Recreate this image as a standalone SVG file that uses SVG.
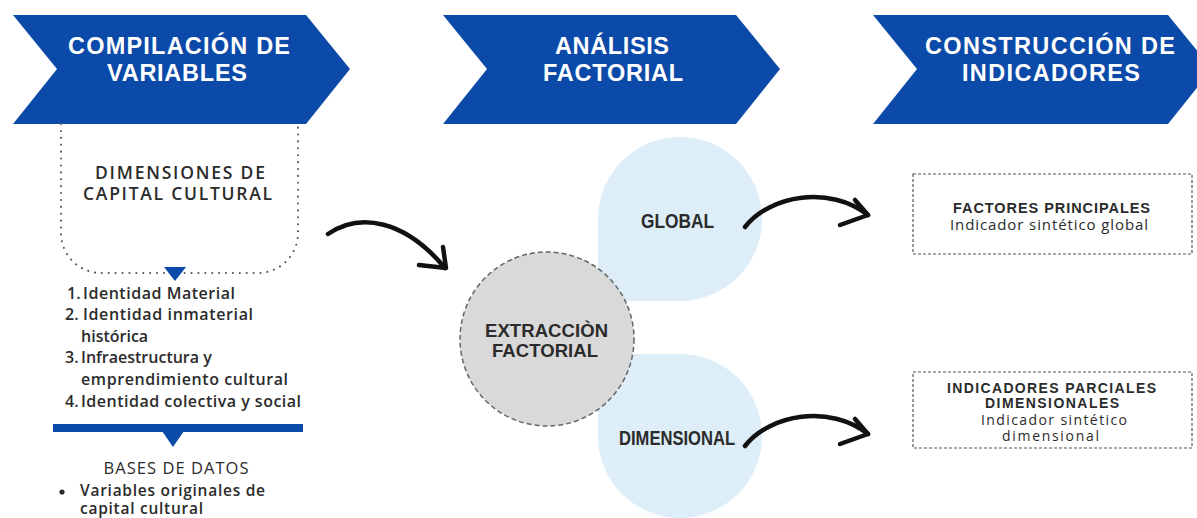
<svg xmlns="http://www.w3.org/2000/svg" width="1197" height="518" viewBox="0 0 1197 518">
<style>
.chev{fill:#0b4aa8}
.ct{font-family:"Liberation Sans",Arial,sans-serif;font-weight:bold;font-size:23.5px;fill:#ffffff;text-anchor:middle}
.dk{font-family:"Liberation Sans",Arial,sans-serif;fill:#2b2b2b}
.md{font-family:"Open Sans","Liberation Sans",Arial,sans-serif;font-weight:600;fill:#2b2b2b}
.rg{font-family:"Open Sans","Liberation Sans",Arial,sans-serif;font-weight:500;fill:#2b2b2b}
.b{font-weight:bold}
.mid{text-anchor:middle}
.lb{fill:#ddeef8}
.arr{fill:none;stroke:#111;stroke-width:4.5;stroke-linecap:round;stroke-linejoin:round}
.dbox{fill:none;stroke:#555;stroke-width:1.2;stroke-dasharray:3 2}
</style>
<rect width="1197" height="518" fill="#ffffff"/>

<g id="step1">
<polygon class="chev" points="13,15 306,15 350,69 306,124 13,124 57,69"/>
<text class="ct" x="179" y="54" textLength="222">COMPILACIÓN DE</text>
<text class="ct" x="177" y="81" textLength="140">VARIABLES</text>
</g>
<g id="step2">
<polygon class="chev" points="443,15 736,15 780,69 736,124 443,124 487,69"/>
<text class="ct" x="612" y="54" textLength="114">ANÁLISIS</text>
<text class="ct" x="613" y="81" textLength="140">FACTORIAL</text>
</g>
<g id="step3">
<polygon class="chev" points="873,15 1168,15 1212,69 1168,124 873,124 917,69"/>
<text class="ct" x="1050" y="54" textLength="250">CONSTRUCCIÓN DE</text>
<text class="ct" x="1051" y="81" textLength="178">INDICADORES</text>
</g>

<g id="dimensiones">
<path d="M61,124 V233 A40,40 0 0 0 101,273 H258 A40,40 0 0 0 298,233 V124" fill="none" stroke="#555" stroke-width="2" stroke-dasharray="0.1 6.8" stroke-linecap="round"/>
<text class="md mid" x="180" y="179" font-size="17.5" textLength="170">DIMENSIONES DE</text>
<text class="md mid" x="177.5" y="200" font-size="17.5" textLength="189">CAPITAL CULTURAL</text>
<polygon class="chev" points="164,267 186,267 175,281"/>
</g>

<g id="lista" class="md" font-size="16">
<text x="67" y="299">1.</text><text x="83" y="299" textLength="152">Identidad Material</text>
<text x="65" y="320">2.</text><text x="83" y="320" textLength="170">Identidad inmaterial</text>
<text x="81" y="342">histórica</text>
<text x="65" y="363">3.</text><text x="81" y="363">Infraestructura y</text>
<text x="81" y="385" textLength="207">emprendimiento cultural</text>
<text x="65" y="407">4.</text><text x="81" y="407" textLength="220">Identidad colectiva y social</text>
</g>

<g id="bases">
<rect class="chev" x="53" y="424" width="250" height="8"/>
<polygon class="chev" points="162,431 184,431 173,447"/>
<text class="rg mid" x="176" y="474" font-size="16.5" textLength="145">BASES DE DATOS</text>
<circle cx="62" cy="492" r="2.6" fill="#2b2b2b"/>
<text class="md" x="80" y="496" font-size="15.5" textLength="185">Variables originales de</text>
<text class="md" x="80" y="514" font-size="15.5" textLength="123">capital cultural</text>
</g>

<g id="global">
<path class="lb" d="M598,301 V219 A82,82 0 0 1 680,137 A82,82 0 0 1 762,219 A82,82 0 0 1 680,301 Z"/>
<text class="dk b mid" x="677.5" y="228" font-size="21" textLength="73" lengthAdjust="spacingAndGlyphs">GLOBAL</text>
</g>
<g id="dimensional">
<path class="lb" d="M598,354 H680 A82,82 0 0 1 762,436 A82,82 0 0 1 680,518 A82,82 0 0 1 598,436 Z"/>
<text class="dk b mid" x="677" y="445" font-size="21" textLength="116" lengthAdjust="spacingAndGlyphs">DIMENSIONAL</text>
</g>

<g id="extraccion">
<circle cx="547" cy="339" r="87" fill="#d9d9d9" stroke="#666" stroke-width="1.5" stroke-dasharray="5 3"/>
<text class="dk b mid" x="546.5" y="337" font-size="18.5" textLength="123">EXTRACCIÒN</text>
<text class="dk b mid" x="545" y="357" font-size="18.5" textLength="106">FACTORIAL</text>
</g>

<g id="factores">
<rect class="dbox" x="913" y="174" width="279" height="80"/>
<text class="dk b mid" x="1051.5" y="213" font-size="14.5" textLength="197">FACTORES PRINCIPALES</text>
<text class="rg mid" x="1049" y="230" font-size="15" textLength="198">Indicador sintético global</text>
</g>
<g id="parciales">
<rect class="dbox" x="913" y="372" width="279" height="76"/>
<text class="dk b mid" x="1051.5" y="393" font-size="14" textLength="209">INDICADORES PARCIALES</text>
<text class="dk b mid" x="1052" y="408" font-size="14" textLength="134">DIMENSIONALES</text>
<text class="rg mid" x="1054" y="424.5" font-size="14" textLength="146">Indicador sintético</text>
<text class="rg mid" x="1050.5" y="440.5" font-size="14" textLength="97">dimensional</text>
</g>

<g id="connectors">
<path class="arr" d="M328,234 C360,212 405,220 445,268"/>
<path class="arr" d="M443,247 L446,268 L419,265"/>
<path class="arr" d="M745,227 C770,195 830,185 868,215"/>
<path class="arr" d="M855,200 L868,215 L840,225"/>
<path class="arr" d="M745,446 C770,414 830,404 868,434"/>
<path class="arr" d="M855,419 L868,434 L840,444"/>
</g>
</svg>
